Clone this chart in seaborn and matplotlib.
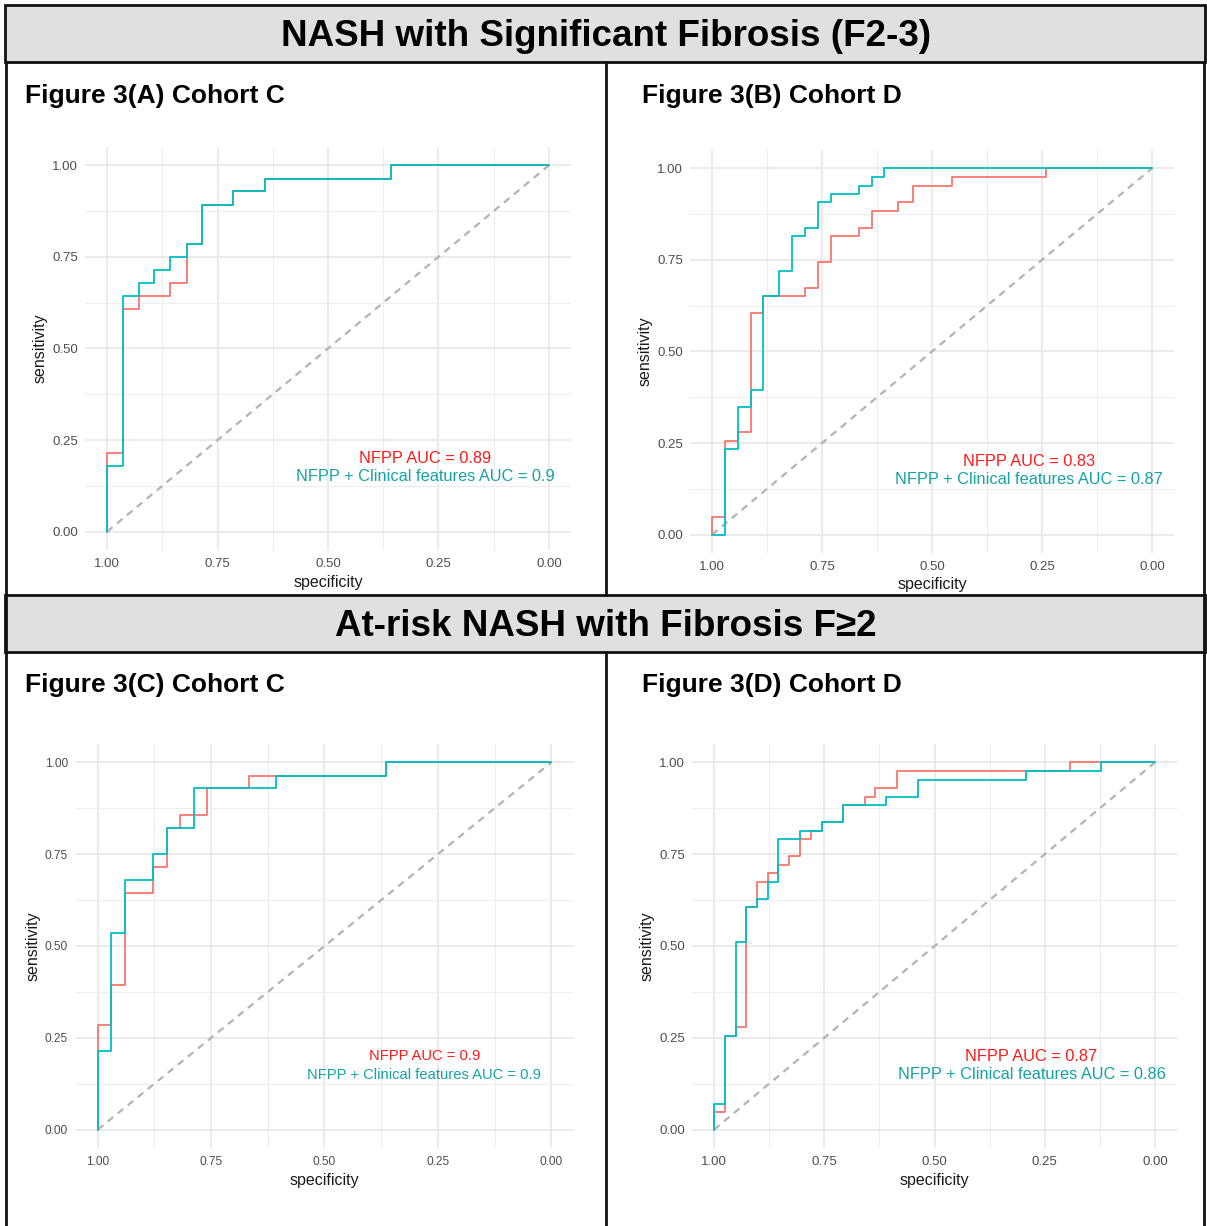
import numpy as np
import pandas as pd
import matplotlib
matplotlib.use("Agg")
import matplotlib.pyplot as plt
from matplotlib.patches import Rectangle
from matplotlib.lines import Line2D
import seaborn as sns

W, H = 1207, 1226

MODELS = ["NFPP", "NFPP + Clinical features"]
LINE_COLORS = {"NFPP": "#F8766D", "NFPP + Clinical features": "#00BFC4"}
TEXT_COLORS = ["#FF1A1A", "#17A2A6"]

SECTION_TITLES = ["NASH with Significant Fibrosis (F2-3)",
                  "At-risk NASH with Fibrosis F\u22652"]
PANEL_TITLES = ["Figure 3(A) Cohort C", "Figure 3(B) Cohort D",
                "Figure 3(C) Cohort C", "Figure 3(D) Cohort D"]

AUC_NFPP = [0.89, 0.83, 0.9, 0.87]
AUC_CLIN = [0.9, 0.87, 0.9, 0.86]

TICKS = [1.0, 0.75, 0.5, 0.25, 0.0]
TICK_LABELS = ["1.00", "0.75", "0.50", "0.25", "0.00"]

# ROC steps: each point = (specificity, sensitivity) at the
# end of a horizontal run (drawn with steps-pre, vertical first)
A_SPEC_NFPP = [1.0, 0.965, 0.928, 0.858, 0.820, 0.786, 0.714, 0.643, 0.357, 0.0]
A_SENS_NFPP = [0.0, 0.214, 0.607, 0.643, 0.679, 0.786, 0.893, 0.929, 0.964, 1.0]
A_SPEC_CLIN = [1.0, 0.965, 0.928, 0.893, 0.858, 0.820, 0.786, 0.714, 0.643, 0.357, 0.0]
A_SENS_CLIN = [0.0, 0.179, 0.643, 0.679, 0.714, 0.750, 0.786, 0.893, 0.929, 0.964, 1.0]

B_SPEC_NFPP = [1.0, 0.971, 0.942, 0.911, 0.883, 0.789, 0.760, 0.730, 0.667, 0.636,
               0.577, 0.544, 0.455, 0.240, 0.0]
B_SENS_NFPP = [0.0, 0.047, 0.256, 0.279, 0.605, 0.651, 0.674, 0.744, 0.814, 0.837,
               0.884, 0.907, 0.953, 0.977, 1.0]
B_SPEC_CLIN = [1.0, 0.971, 0.942, 0.911, 0.883, 0.848, 0.818, 0.789, 0.760, 0.730,
               0.667, 0.636, 0.608, 0.0]
B_SENS_CLIN = [0.0, 0.0, 0.233, 0.349, 0.395, 0.651, 0.721, 0.814, 0.837, 0.907,
               0.930, 0.953, 0.977, 1.0]

C_SPEC_NFPP = [1.0, 0.970, 0.939, 0.879, 0.848, 0.818, 0.758, 0.667, 0.364, 0.0]
C_SENS_NFPP = [0.0, 0.286, 0.393, 0.643, 0.714, 0.821, 0.857, 0.929, 0.964, 1.0]
C_SPEC_CLIN = [1.0, 0.970, 0.939, 0.879, 0.848, 0.787, 0.606, 0.364, 0.0]
C_SENS_CLIN = [0.0, 0.214, 0.536, 0.679, 0.750, 0.821, 0.929, 0.964, 1.0]

D_SPEC_NFPP = [1.0, 0.976, 0.951, 0.927, 0.902, 0.878, 0.854, 0.829, 0.805, 0.780,
               0.756, 0.707, 0.658, 0.634, 0.585, 0.193, 0.0]
D_SENS_NFPP = [0.0, 0.047, 0.256, 0.279, 0.605, 0.674, 0.698, 0.721, 0.744, 0.791,
               0.814, 0.837, 0.884, 0.907, 0.930, 0.977, 1.0]
D_SPEC_CLIN = [1.0, 0.976, 0.951, 0.927, 0.902, 0.878, 0.854, 0.805, 0.756, 0.707,
               0.610, 0.537, 0.293, 0.122, 0.0]
D_SENS_CLIN = [0.0, 0.070, 0.256, 0.512, 0.605, 0.628, 0.674, 0.791, 0.814, 0.837,
               0.884, 0.907, 0.953, 0.977, 1.0]

DIAG_SPEC = [1.0, 0.0]
DIAG_SENS = [0.0, 1.0]

CURVES = [
    (A_SPEC_NFPP, A_SENS_NFPP, A_SPEC_CLIN, A_SENS_CLIN),
    (B_SPEC_NFPP, B_SENS_NFPP, B_SPEC_CLIN, B_SENS_CLIN),
    (C_SPEC_NFPP, C_SENS_NFPP, C_SPEC_CLIN, C_SENS_CLIN),
    (D_SPEC_NFPP, D_SENS_NFPP, D_SPEC_CLIN, D_SENS_CLIN),
]

# panel boxes in pixels: left, right, top, bottom
PANEL_PX = [(85, 571, 147, 550), (690, 1174, 150, 553),
            (75, 574, 744, 1148), (692, 1177, 744, 1148)]
# panel C was pasted in a bit smaller in the source
TICK_SIZE = [9.5, 9.5, 8.6, 9.5]
NOTE_SIZE = [11.8, 11.8, 10.6, 11.8]


def fx(x):
    return x / W


def fy(y):
    return 1 - y / H


sns.set_theme(style="white")
plt.rcParams["font.family"] = ["Liberation Sans", "DejaVu Sans"]

fig = plt.figure(figsize=(W / 100, H / 100), dpi=100)
fig.patch.set_facecolor("white")

# ── section headers and frame ────────────────────────────────────────────────
for (top, bot), title in zip([(5, 62), (595, 652)], SECTION_TITLES):
    fig.add_artist(Rectangle((fx(5), fy(bot)), fx(1200), (bot - top) / H,
                             transform=fig.transFigure, facecolor="#e0e0e0",
                             edgecolor="#111111", linewidth=2.0, zorder=5))
    fig.text(fx(606), fy((top + bot) / 2 + 3.5), title, ha="center", va="center",
             fontsize=26.5, fontweight="bold", color="black", zorder=6)

frame_kw = dict(transform=fig.transFigure, color="#111111", linewidth=2.0, zorder=5)
fig.add_artist(Line2D([fx(606), fx(606)], [fy(62), fy(595)], **frame_kw))
fig.add_artist(Line2D([fx(606), fx(606)], [fy(652), fy(1226)], **frame_kw))
fig.add_artist(Line2D([fx(6), fx(6)], [fy(62), fy(1226)], **frame_kw))
fig.add_artist(Line2D([fx(1204), fx(1204)], [fy(62), fy(1226)], **frame_kw))

for i, title in enumerate(PANEL_TITLES):
    x0 = 25 if i % 2 == 0 else 642
    y0 = 96 if i < 2 else 685
    fig.text(fx(x0), fy(y0), title, ha="left", va="center", fontsize=19,
             fontweight="bold", color="black")

# ── ROC panels ───────────────────────────────────────────────────────────────
for i, (l, r, t, b) in enumerate(PANEL_PX):
    ax = fig.add_axes([fx(l), fy(b), (r - l) / W, (b - t) / H])
    spec_n, sens_n, spec_c, sens_c = CURVES[i]
    df = pd.DataFrame({
        "specificity": spec_n + spec_c,
        "sensitivity": sens_n + sens_c,
        "model": [MODELS[0]] * len(spec_n) + [MODELS[1]] * len(spec_c),
    })

    ax.plot(DIAG_SPEC, DIAG_SENS, color="#b3b3b3", linewidth=1.6,
            linestyle=(0, (3.2, 2.6)), zorder=2)
    sns.lineplot(data=df, x="specificity", y="sensitivity", hue="model",
                 hue_order=MODELS, palette=LINE_COLORS, sort=False,
                 estimator=None, drawstyle="steps-pre", linewidth=1.3,
                 legend=False, ax=ax, zorder=3)

    ax.set_xlim(1.05, -0.05)
    ax.set_ylim(-0.05, 1.05)
    ax.set_xticks(TICKS)
    ax.set_xticklabels(TICK_LABELS)
    ax.set_yticks(TICKS)
    ax.set_yticklabels(TICK_LABELS)
    ax.set_xticks([0.875, 0.625, 0.375, 0.125], minor=True)
    ax.set_yticks([0.875, 0.625, 0.375, 0.125], minor=True)
    ax.grid(True, which="major", color="#e6e6e6", linewidth=1.1)
    ax.grid(True, which="minor", color="#eeeeee", linewidth=0.8)
    ax.set_axisbelow(True)
    for s in ax.spines.values():
        s.set_visible(False)
    ax.tick_params(axis="both", which="both", length=0, labelsize=TICK_SIZE[i],
                   labelcolor="#4d4d4d")
    ax.tick_params(axis="x", pad=6)
    ax.tick_params(axis="y", pad=5)
    ax.set_xlabel("specificity", fontsize=11.5, color="#1a1a1a", labelpad=3)
    ax.set_ylabel("sensitivity", fontsize=11.5, color="#1a1a1a", labelpad=3)
    ax.set_facecolor("white")

    ax.text(0.28, 0.2, f"NFPP AUC = {AUC_NFPP[i]}", color=TEXT_COLORS[0],
            ha="center", va="center", fontsize=NOTE_SIZE[i])
    ax.text(0.28, 0.15, f"NFPP + Clinical features AUC = {AUC_CLIN[i]}",
            color=TEXT_COLORS[1], ha="center", va="center", fontsize=NOTE_SIZE[i])

fig.savefig("out.png", dpi=100)
